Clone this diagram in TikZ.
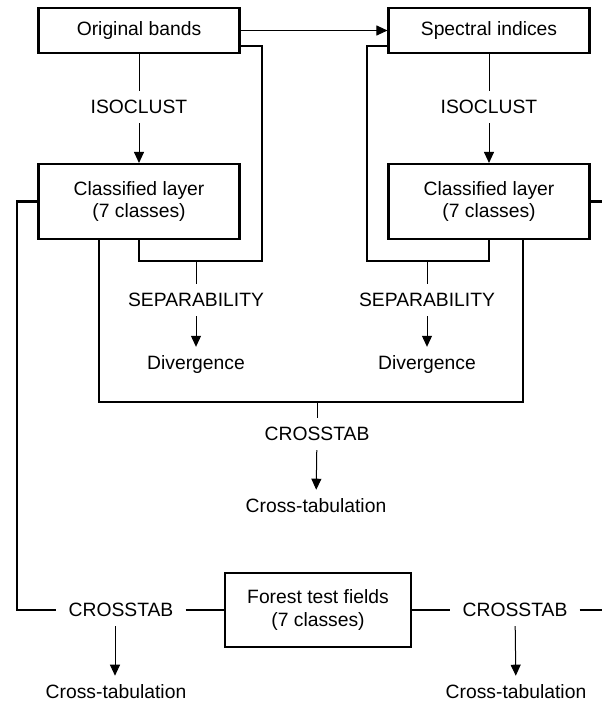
\documentclass[tikz,border=0pt]{standalone}
\usepackage{fontspec}
\setmainfont{Liberation Sans}
\usetikzlibrary{positioning,arrows.meta}

\begin{document}
\begin{tikzpicture}[
    x=1pt,
    y=-1pt,
    >={Triangle[width=10pt,length=11pt]},
    font=\fontsize{19.3}{22.5}\selectfont
]

\tikzstyle{box}=[
    draw,
    line width=2.1pt,
    minimum width=201pt,
    minimum height=45pt,
    inner sep=0pt,
    align=center
]
\tikzstyle{tallbox}=[box, minimum height=75pt]
\tikzstyle{op}=[inner xsep=12pt, inner ysep=9pt]
\tikzstyle{wire}=[line width=2.1pt]
\tikzstyle{lead}=[line width=1pt]
\tikzstyle{arr}=[lead, ->]

\useasboundingbox (0,0) rectangle (602,705);

% inputs
\node[box] (ob) at (139,30.5) {Original bands};
\node[box] (si) at (489,30.5) {Spectral indices};

% classification
\node[op] (iso1) at (139,107) {ISOCLUST};
\node[op] (iso2) at (489,107) {ISOCLUST};
\node[tallbox] (cl1) at (139,201.5) {Classified layer\\(7 classes)};
\node[tallbox] (cl2) at (489,201.5) {Classified layer\\(7 classes)};

% separability
\node[op] (sep1) at (196,300) {SEPARABILITY};
\node[op] (sep2) at (427,300) {SEPARABILITY};
\node[op] (div1) at (196,365) {Divergence};
\node[op] (div2) at (427,365) {Divergence};

% comparison
\node[op] (cross) at (317,434) {CROSSTAB};
\node[op] (ctab) at (316,506) {Cross-tabulation};

% test fields
\node[box, minimum width=186pt, minimum height=74pt] (ft) at (318,610) {Forest test fields\\(7 classes)};
\node[op] (cr1) at (121,610) {CROSSTAB};
\node[op] (cr2) at (515,610) {CROSSTAB};
\node[op] (ctab1) at (116,692) {Cross-tabulation};
\node[op] (ctab2) at (516,692) {Cross-tabulation};

\coordinate (jl) at (196,261);
\coordinate (jr) at (427,261);
\coordinate (jc) at (317,402);
\coordinate (lc) at (17,610);
\coordinate (rc) at (612,610);

\draw[arr] (ob) -- (si);
\draw[lead] (ob) -- (iso1);
\draw[arr] (iso1) -- (cl1);
\draw[lead] (si) -- (iso2);
\draw[arr] (iso2) -- (cl2);

\draw[wire] ([yshift=-15.5pt]ob.east) -| ([xshift=66pt]jl) -| (cl1.south);
\draw[wire] ([yshift=-15.5pt]si.west) -| ([xshift=-60pt]jr) -| (cl2.south);
\draw[lead] (jl) -- (sep1);
\draw[arr] (sep1) -- (div1);
\draw[lead] (jr) -- (sep2);
\draw[arr] (sep2) -- (div2);

\draw[wire] ([xshift=-40pt]cl1.south) |- (jc) -| ([xshift=34pt]cl2.south);
\draw[lead] (jc) -- (cross);
\draw[arr] (cross) -- (ctab);

\draw[wire] (cl1.west) -| (lc) -- (cr1);
\draw[wire] (cr1) -- (ft);
\draw[wire] (ft) -- (cr2);
\draw[wire] (cr2) -- (rc);
\draw[wire] (cl2.east) -| (rc);
\draw[arr] ([xshift=-6pt]cr1.south) -- ([xshift=-6pt]cr1.south |- ctab1.north);
\draw[arr] (cr2) -- (ctab2);

\end{tikzpicture}
\end{document}
